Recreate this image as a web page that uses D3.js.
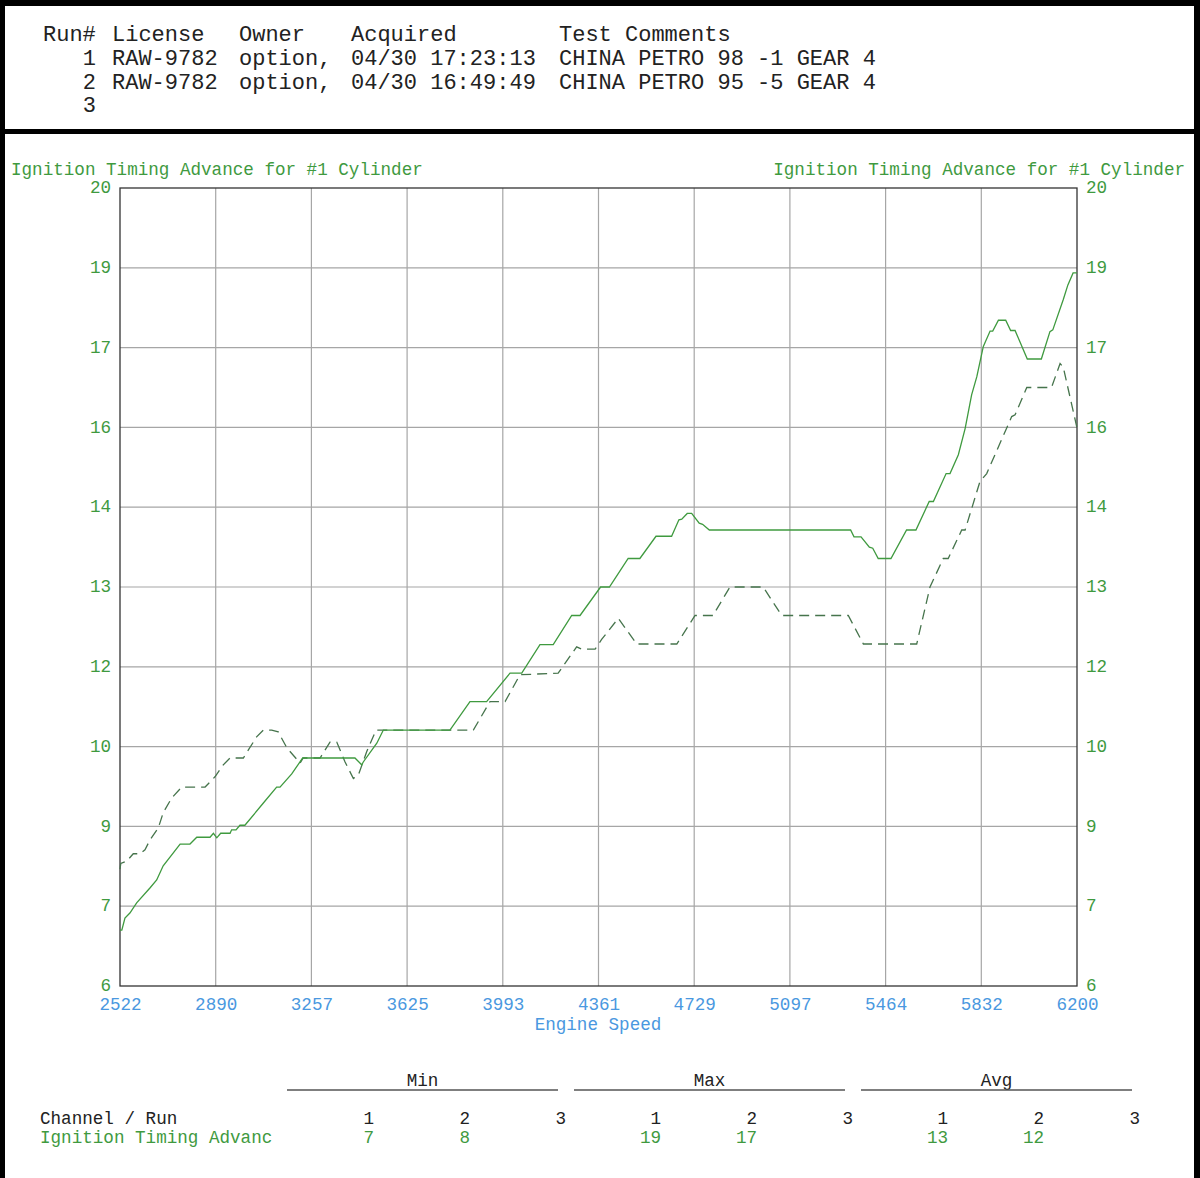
<!DOCTYPE html>
<html><head><meta charset="utf-8">
<script src="https://cdn.jsdelivr.net/npm/d3@7"></script>
<style>
html,body{margin:0;padding:0;background:#fff;}
svg{display:block;}
text{font-family:"Liberation Mono","Courier New",monospace;}
</style></head>
<body>
<script>
// ---------- DATA ----------
const headerColumns = ["Run#", "License", "Owner", "Acquired", "Test Comments"];
const runIds = ["1", "2", "3"];
const runLicense = ["RAW-9782", "RAW-9782", ""];
const runOwner = ["option,", "option,", ""];
const runAcquired = ["04/30 17:23:13", "04/30 16:49:49", ""];
const runComments = ["CHINA PETRO 98 -1 GEAR 4", "CHINA PETRO 95 -5 GEAR 4", ""];

const chartTitle = "Ignition Timing Advance for #1 Cylinder";
const xAxisTitle = "Engine Speed";
const xDomain = [2522, 6200];
const yDomain = [6, 20];
const xTickLabels = ["2522","2890","3257","3625","3993","4361","4729","5097","5464","5832","6200"];
const yTickLabels = ["6","7","9","10","12","13","14","16","17","19","20"];

// Run 1 (solid): engine speed (rpm) and ignition advance (deg)
const run1Rpm = [2522,2529,2541,2560,2586,2637,2663,2688,2753,2791,2817,2868,2881,2894,2909,2945,2951,2968,2983,3002,3073,3124,3137,3182,3224,3425,3451,3457,3509,3534,3790,3867,3931,4021,4066,4136,4187,4258,4290,4369,4403,4475,4520,4582,4642,4670,4681,4702,4719,4748,4761,4787,5330,5343,5370,5402,5415,5436,5485,5545,5581,5632,5648,5697,5712,5744,5770,5795,5815,5840,5866,5876,5898,5926,5945,5962,6009,6063,6096,6107,6147,6165,6185,6200];
const run1Adv = [6.98,6.98,7.19,7.28,7.46,7.72,7.86,8.11,8.49,8.49,8.61,8.61,8.68,8.60,8.68,8.68,8.74,8.74,8.82,8.82,9.21,9.49,9.49,9.72,10.0,10.0,9.88,9.93,10.26,10.49,10.49,10.99,10.99,11.49,11.49,11.99,11.99,12.5,12.5,13.0,13.0,13.5,13.5,13.89,13.89,14.18,14.19,14.29,14.29,14.12,14.1,14.0,14.0,13.88,13.88,13.7,13.68,13.5,13.5,14.0,14.0,14.5,14.5,14.99,14.99,15.32,15.78,16.37,16.69,17.22,17.49,17.49,17.68,17.68,17.5,17.5,17.0,17.0,17.48,17.51,18.04,18.3,18.51,18.51];

// Run 2 (dashed)
const run2Rpm = [2522,2525,2548,2573,2599,2618,2637,2669,2688,2721,2759,2849,2887,2919,2945,2996,3047,3073,3105,3130,3163,3214,3226,3291,3329,3355,3387,3419,3438,3470,3506,3880,3944,4002,4059,4206,4277,4296,4348,4373,4437,4508,4662,4732,4801,4866,4994,5065,5321,5379,5584,5635,5686,5705,5757,5770,5827,5853,5949,5962,6007,6102,6135,6147,6199];
const run2Adv = [8.05,8.15,8.19,8.32,8.32,8.39,8.56,8.77,9.04,9.3,9.49,9.49,9.67,9.88,10.0,10.0,10.37,10.49,10.49,10.46,10.18,9.91,10.0,10.0,10.28,10.28,9.93,9.64,9.7,10.11,10.49,10.49,10.99,10.99,11.46,11.49,11.95,11.91,11.91,12.08,12.45,12.0,12.0,12.5,12.5,13.0,13.0,12.5,12.5,12.0,12.0,13.0,13.5,13.5,14.0,14.0,14.85,14.99,15.99,16.02,16.5,16.5,16.92,16.86,15.81];

const statGroups = ["Min", "Max", "Avg"];
const statRuns = ["1", "2", "3"];
const statChannel = "Ignition Timing Advanc";
const statMin = ["7", "8", ""];
const statMax = ["19", "17", ""];
const statAvg = ["13", "12", ""];

// ---------- DRAW ----------
const W = 1200, H = 1178;
const svg = d3.select("body").append("svg").attr("width", W).attr("height", H);

const dark = "#222", green = "#3f9a3f", blue = "#4a98e0";

// frame
svg.append("rect").attr("x",0).attr("y",0).attr("width",W).attr("height",6).attr("fill","#000");
svg.append("rect").attr("x",0).attr("y",0).attr("width",5).attr("height",H).attr("fill","#000");
svg.append("rect").attr("x",1194).attr("y",0).attr("width",6).attr("height",H).attr("fill","#000");
svg.append("rect").attr("x",0).attr("y",129).attr("width",W).attr("height",5).attr("fill","#000");

// header
const hdrX = [43, 112, 239, 351, 559];
const hdrY = [33, 57, 81, 104];
const hdr = svg.append("g").attr("font-size", 22).attr("fill", dark);
headerColumns.forEach((c,i)=>{
  hdr.append("text").attr("x",hdrX[i]).attr("y",hdrY[0]).attr("dy","0.35em").text(c);
});
runIds.forEach((r,i)=>{
  const y = hdrY[i+1];
  hdr.append("text").attr("x",96).attr("y",y).attr("dy","0.35em").attr("text-anchor","end").text(r);
  [runLicense[i], runOwner[i], runAcquired[i], runComments[i]].forEach((t,j)=>{
    if (t) hdr.append("text").attr("x",hdrX[j+1]).attr("y",y).attr("dy","0.35em")
      .style("white-space","pre").text(t);
  });
});

// chart
const x = d3.scaleLinear().domain(xDomain).range([120, 1077]);
const y = d3.scaleLinear().domain(yDomain).range([986, 188]);
const nX = xTickLabels.length - 1, nY = yTickLabels.length - 1;
const xTickVals = xTickLabels.map((_,i)=> xDomain[0] + i*(xDomain[1]-xDomain[0])/nX);
const yTickVals = yTickLabels.map((_,i)=> yDomain[0] + i*(yDomain[1]-yDomain[0])/nY);

const g = svg.append("g");
// grid
g.selectAll(".vg").data(xTickVals.slice(1,-1)).enter().append("line")
  .attr("x1",d=>x(d)).attr("x2",d=>x(d)).attr("y1",y(yDomain[1])).attr("y2",y(yDomain[0]))
  .attr("stroke","#a6a6a6").attr("stroke-width",1.2);
g.selectAll(".hg").data(yTickVals.slice(1,-1)).enter().append("line")
  .attr("x1",x(xDomain[0])).attr("x2",x(xDomain[1])).attr("y1",d=>y(d)).attr("y2",d=>y(d))
  .attr("stroke","#a6a6a6").attr("stroke-width",1.2);
g.append("rect").attr("x",x(xDomain[0])).attr("y",y(yDomain[1]))
  .attr("width",x(xDomain[1])-x(xDomain[0])).attr("height",y(yDomain[0])-y(yDomain[1]))
  .attr("fill","none").attr("stroke","#333").attr("stroke-width",1.3);

// axes labels
const axL = d3.axisLeft(y).tickValues(yTickVals).tickSize(0).tickPadding(9)
  .tickFormat((d,i)=>yTickLabels[i]);
const axR = d3.axisRight(y).tickValues(yTickVals).tickSize(0).tickPadding(9)
  .tickFormat((d,i)=>yTickLabels[i]);
const axB = d3.axisBottom(x).tickValues(xTickVals).tickSize(0).tickPadding(12)
  .tickFormat((d,i)=>xTickLabels[i]);
function styleAxis(sel, col){
  sel.select(".domain").remove();
  sel.selectAll("text").attr("fill",col).attr("font-size",17.6)
     .attr("font-family","'Liberation Mono',monospace");
}
svg.append("g").attr("transform",`translate(${x(xDomain[0])},-1)`).call(axL).call(s=>styleAxis(s,green));
svg.append("g").attr("transform",`translate(${x(xDomain[1])},-1)`).call(axR).call(s=>styleAxis(s,green));
svg.append("g").attr("transform",`translate(0,${y(yDomain[0])})`).call(axB).call(s=>styleAxis(s,blue));

svg.append("text").attr("x",598).attr("y",1024).attr("dy","0.35em").attr("text-anchor","middle")
  .attr("font-size",17.6).attr("fill",blue).text(xAxisTitle);
svg.append("text").attr("x",11).attr("y",169).attr("dy","0.35em")
  .attr("font-size",17.6).attr("fill",green).text(chartTitle);
svg.append("text").attr("x",1185).attr("y",169).attr("dy","0.35em").attr("text-anchor","end")
  .attr("font-size",17.6).attr("fill",green).text(chartTitle);

// lines
const line = d3.line().x(d=>x(d[0])).y(d=>y(d[1]));
const run1 = run1Rpm.map((r,i)=>[r, run1Adv[i]]);
const run2 = run2Rpm.map((r,i)=>[r, run2Adv[i]]);
svg.append("path").datum(run2).attr("d",line).attr("fill","none")
  .attr("stroke","#46744c").attr("stroke-width",1.3).attr("stroke-dasharray","10,6");
svg.append("path").datum(run1).attr("d",line).attr("fill","none")
  .attr("stroke","#3f9a3f").attr("stroke-width",1.3);

// stats table
const st = svg.append("g").attr("font-size",17.6);
const groupLineX = [287, 574, 861];
const groupW = 271;
statGroups.forEach((gname,gi)=>{
  const gx = groupLineX[gi];
  st.append("text").attr("x",gx+groupW/2).attr("y",1080).attr("dy","0.35em")
    .attr("text-anchor","middle").attr("fill",dark).text(gname);
  st.append("line").attr("x1",gx).attr("x2",gx+groupW).attr("y1",1090).attr("y2",1090)
    .attr("stroke","#555").attr("stroke-width",1.5);
  const vals = [statMin, statMax, statAvg][gi];
  statRuns.forEach((r,ri)=>{
    const ex = 374 + gi*287 + ri*96;
    st.append("text").attr("x",ex).attr("y",1118).attr("dy","0.35em").attr("text-anchor","end")
      .attr("fill",dark).text(r);
    if (vals[ri]) st.append("text").attr("x",ex).attr("y",1137).attr("dy","0.35em")
      .attr("text-anchor","end").attr("fill",green).text(vals[ri]);
  });
});
st.append("text").attr("x",40).attr("y",1118).attr("dy","0.35em").attr("fill",dark).text("Channel / Run");
st.append("text").attr("x",40).attr("y",1137).attr("dy","0.35em").attr("fill",green).text(statChannel);
</script>
</body></html>
